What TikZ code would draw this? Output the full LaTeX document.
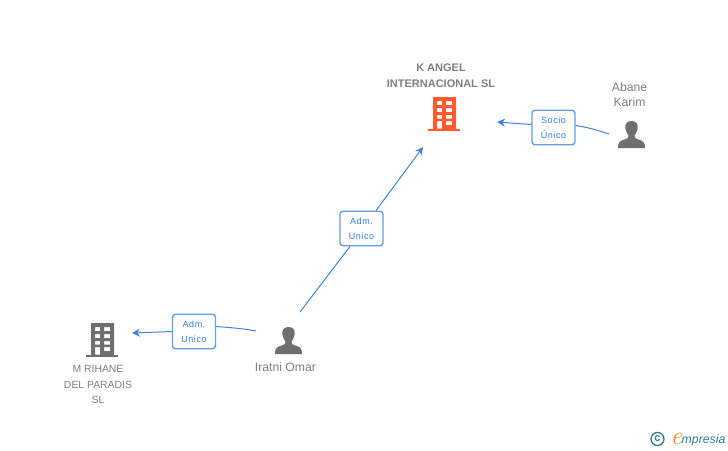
\documentclass[tikz,border=0pt]{standalone}
\usepackage{fontspec}
\setmainfont{Liberation Sans}
\usetikzlibrary{arrows.meta}
\definecolor{linkblue}{HTML}{3F83E0}
\definecolor{badgeblue}{HTML}{2F7BE0}
\definecolor{namegrey}{HTML}{7F7F7F}
\definecolor{icongrey}{HTML}{6F6F6F}
\definecolor{iconorange}{HTML}{FF5A30}
\definecolor{logoteal}{HTML}{2F7F92}
\definecolor{logoorange}{HTML}{F08A1D}
\tikzset{
  x=1pt,y=-1pt,
  badge/.style={draw=linkblue!80,line width=1.4pt,rounded corners=3pt,fill=white,minimum width=43pt,minimum height=34.5pt,inner sep=0pt,align=center,text=badgeblue,font=\fontsize{9}{15}\selectfont\addfontfeatures{LetterSpace=6}},
  link/.style={draw=linkblue,line width=1pt},
  linkarrow/.style={link,-{Stealth[length=8pt,width=8pt]}},
  personname/.style={text=namegrey,align=center,inner sep=0pt,font=\fontsize{12.2}{15}\selectfont},
  companyname/.style={text=namegrey,align=center,inner sep=0pt,font=\fontsize{10.4}{15.5}\selectfont},
  buildingpic/.pic={
    \fill[pic actions] (0,31.5) rectangle (32,34);
    \fill[pic actions,even odd rule] (5,0) rectangle (28,33)
      (9,4) rectangle (14,8) (18,4) rectangle (24,8)
      (9,11) rectangle (14,15) (18,11) rectangle (24,15)
      (9,18) rectangle (14,21.5) (18,18) rectangle (24,21.5)
      (9,24) rectangle (14,31.5) (18,24) rectangle (24,28);
  },
  personpic/.pic={
    \fill[pic actions] (13.5,0) .. controls (8.5,0) and (6.5,3.5) .. (7.5,8)
      .. controls (8,11) and (9.5,13) .. (10.5,14.5)
      .. controls (10.7,16.5) and (10,17.5) .. (6.5,18.5)
      .. controls (1.5,20) and (0,21.5) .. (0,27)
      -- (27,27)
      .. controls (27,21.5) and (25.5,20) .. (20.5,18.5)
      .. controls (17,17.5) and (16.3,16.5) .. (16.5,14.5)
      .. controls (17.5,13) and (19,11) .. (19.5,8)
      .. controls (20.5,3.5) and (18.5,0) .. (13.5,0) -- cycle;
  }
}
\begin{document}
\begin{tikzpicture}
\useasboundingbox (0,0) rectangle (728,450);
\fill[white] (0,0) rectangle (728,450);

% icons
\pic[fill=iconorange] at (428,97) {buildingpic};
\pic[fill=icongrey] at (86,323) {buildingpic};
\pic[fill=icongrey] at (618,121) {personpic};
\pic[fill=icongrey] at (275,327) {personpic};

% names
\node[companyname,font=\fontsize{11}{15.5}\selectfont\bfseries] (kangel) at (441,75.5) {K ANGEL\\INTERNACIONAL SL};
\node[companyname] (mrihane) at (98,384.5) {M RIHANE\\DEL PARADIS\\SL};
\node[personname] (abane) at (629.5,94.5) {Abane\\Karim};
\node[personname] (iratni) at (285.5,367.5) {Iratni Omar};

% connector end points
\coordinate (kangelin) at (423,147);
\coordinate (kangelsocio) at (497,122);
\coordinate (mrihanein) at (132,333);
\coordinate (abaneout) at (609,134);
\coordinate (iratniup) at (300,312);
\coordinate (iratnileft) at (256,331);

% badges
\node[badge] (socio) at (553.5,127.5) {Socio\\Único};
\node[badge] (admup) at (361.5,228.5) {Adm.\\Unico};
\node[badge] (admleft) at (194,331.5) {Adm.\\Unico};

% connectors
\draw[link] (abaneout) .. controls (598,130.5) and (587,127) .. (socio.east |- 0,125.5);
\draw[linkarrow] (socio.west |- 0,124.5) -- (kangelsocio);
\draw[link] (iratniup) -- (admup.south -| 350,0);
\draw[linkarrow] (admup.north -| 376,0) -- (kangelin);
\draw[link] (iratnileft) .. controls (243,328.5) and (230,327.5) .. (admleft.east |- 0,326.5);
\draw[linkarrow] (admleft.west |- 0,331.5) -- (mrihanein);

% logo
\node[draw=logoteal,line width=1.3pt,circle,minimum size=13pt,inner sep=0pt,text=logoteal,font=\fontsize{11}{11}\selectfont\bfseries] (copyr) at (657.5,439) {c};
\node[anchor=base west,inner sep=0pt,text=logoorange,font=\fontfamily{lmr}\fontsize{26}{26}\selectfont\itshape] (logoe) at (670.5,444) {e};
\node[anchor=base west,inner sep=0pt,text=logoteal,font=\fontsize{12.3}{12.3}\selectfont\itshape] (logotext) at (681.5,443.5) {mpresia};
\end{tikzpicture}
\end{document}
